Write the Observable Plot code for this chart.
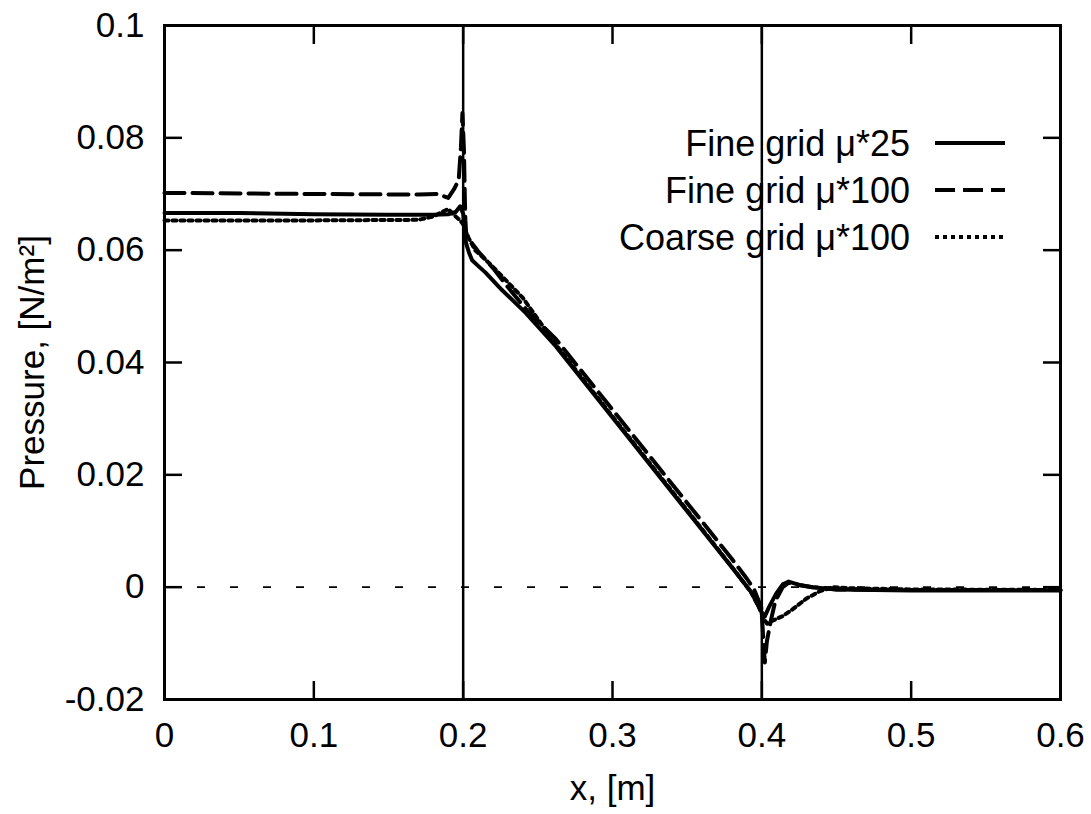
<!DOCTYPE html>
<html>
<head>
<meta charset="utf-8">
<script src="https://cdn.jsdelivr.net/npm/d3@7"></script>
<script src="https://cdn.jsdelivr.net/npm/@observablehq/plot@0.6"></script>
<style>
  html, body { margin: 0; padding: 0; background: #fff; }
  #wrap { position: relative; width: 1091px; height: 814px; font-family: "Liberation Sans", Arial, Helvetica, sans-serif; }
  #legend { position: absolute; left: 0; top: 0; width: 1091px; height: 814px; pointer-events: none; }
</style>
</head>
<body>
<div id="wrap"></div>
<script>
// ---- data ----
const seriesNames = ["Fine grid \u03bc*25", "Fine grid \u03bc*100", "Coarse grid \u03bc*100"];

const xFine25 = [0, 0.05, 0.1, 0.15, 0.18, 0.19, 0.195, 0.198, 0.2, 0.201, 0.202, 0.204, 0.206, 0.21, 0.215, 0.226, 0.242, 0.262, 0.3, 0.35, 0.38, 0.393, 0.397, 0.4, 0.402, 0.4047, 0.4095, 0.414, 0.418, 0.425, 0.434, 0.45, 0.5, 0.6];
const pFine25 = [0.0666, 0.0666, 0.0664, 0.0663, 0.0663, 0.0664, 0.0668, 0.0678, 0.0665, 0.063, 0.0612, 0.0595, 0.0582, 0.0572, 0.056, 0.0529, 0.0488, 0.0429, 0.0302, 0.0135, 0.0035, -0.0009, -0.003, -0.0045, -0.0052, -0.0036, -0.0012, 0.0005, 0.001, 0.0004, 0.0, -0.0004, -0.0006, -0.0006];

const xFine100 = [0, 0.1, 0.17, 0.183, 0.19, 0.194, 0.197, 0.1985, 0.1995, 0.2005, 0.2012, 0.2015, 0.202, 0.206, 0.21, 0.22, 0.23, 0.243, 0.262, 0.3, 0.35, 0.38, 0.39, 0.395, 0.398, 0.3995, 0.4005, 0.401, 0.402, 0.4034, 0.406, 0.409, 0.414, 0.418, 0.425, 0.434, 0.45, 0.5, 0.6];
const pFine100 = [0.0702, 0.0700, 0.0699, 0.0700, 0.0693, 0.0709, 0.0725, 0.0783, 0.0844, 0.078, 0.0684, 0.0653, 0.063, 0.0612, 0.0598, 0.0568, 0.0534, 0.0492, 0.0442, 0.0316, 0.0150, 0.0050, 0.0015, -0.0005, -0.0025, -0.0034, -0.007, -0.0095, -0.0134, -0.0096, -0.006, -0.0025, 0, 0.0008, 0.0004, 0, -0.0004, -0.0005, -0.0005];

const xCoarse100 = [0, 0.1, 0.17, 0.18, 0.186, 0.19, 0.195, 0.198, 0.2, 0.203, 0.208, 0.213, 0.22, 0.24, 0.262, 0.3, 0.35, 0.38, 0.393, 0.398, 0.401, 0.4035, 0.4068, 0.4136, 0.4203, 0.43, 0.439, 0.448, 0.46, 0.5, 0.6];
const pCoarse100 = [0.0653, 0.0653, 0.0654, 0.0660, 0.0668, 0.0673, 0.0660, 0.0653, 0.0646, 0.0625, 0.0600, 0.0588, 0.0570, 0.0515, 0.0432, 0.0304, 0.0137, 0.0036, -0.001, -0.0035, -0.0055, -0.0065, -0.006, -0.0052, -0.004, -0.002, -0.0007, 0, -0.0002, -0.0004, -0.0005];

const interfaces = [0.2, 0.4];
const zeroLine = [0];
const xTicks = [0, 0.1, 0.2, 0.3, 0.4, 0.5, 0.6];
const yTicks = [-0.02, 0, 0.02, 0.04, 0.06, 0.08, 0.1];

// ---- build ----
const toRows = (xs, ps) => xs.map((x, i) => ({x, p: ps[i]}));
const fine25 = toRows(xFine25, pFine25);
const fine100 = toRows(xFine100, pFine100);
const coarse100 = toRows(xCoarse100, pCoarse100);

const fmt = d => String(d);
const TICK = 18;
const LW = 4;

const chart = Plot.plot({
  width: 1091,
  height: 814,
  marginLeft: 164,
  marginRight: 31,
  marginTop: 25,
  marginBottom: 115,
  style: {fontFamily: "'Liberation Sans', Arial, Helvetica, sans-serif", fontSize: "35px", color: "black", background: "white", overflow: "visible"},
  x: {domain: [0, 0.6]},
  y: {domain: [-0.02, 0.1]},
  marks: [
    Plot.ruleY(zeroLine, {stroke: "black", strokeWidth: 1.8, strokeDasharray: "8,25"}),
    Plot.ruleX(interfaces, {stroke: "black", strokeWidth: 2.5}),
    Plot.line(coarse100, {x: "x", y: "p", stroke: "black", strokeWidth: LW, strokeDasharray: "4,4"}),
    Plot.line(fine100, {x: "x", y: "p", stroke: "black", strokeWidth: LW, strokeDasharray: "20,8"}),
    Plot.line(fine25, {x: "x", y: "p", stroke: "black", strokeWidth: LW}),
    Plot.frame({stroke: "black", strokeWidth: 3}),
    // inward ticks on all four sides
    Plot.axisX(xTicks, {anchor: "bottom", tickSize: TICK, dy: -TICK, fill: "none", strokeWidth: 2.5}),
    Plot.axisX(xTicks, {anchor: "top", tickSize: TICK, dy: TICK, fill: "none", strokeWidth: 2.5}),
    Plot.axisY(yTicks, {anchor: "left", tickSize: TICK, dx: TICK, fill: "none", strokeWidth: 2.5}),
    Plot.axisY(yTicks, {anchor: "right", tickSize: TICK, dx: -TICK, fill: "none", strokeWidth: 2.5}),
    // tick labels and axis titles
    Plot.axisX(xTicks, {anchor: "bottom", tickSize: 0, tickPadding: 23, tickFormat: fmt, label: "x, [m]", labelAnchor: "center", labelArrow: "none", labelOffset: 100}),
    Plot.axisY(yTicks, {anchor: "left", tickSize: 0, tickPadding: 20, tickFormat: fmt, label: "Pressure, [N/m\u00b2]", labelAnchor: "center", labelArrow: "none", labelOffset: 145})
  ]
});

const wrap = document.getElementById("wrap");
wrap.appendChild(chart);

// ---- legend (inside plot, top right) ----
const ns = "http://www.w3.org/2000/svg";
const leg = document.createElementNS(ns, "svg");
leg.setAttribute("id", "legend");
leg.setAttribute("width", 1091);
leg.setAttribute("height", 814);
const styles = [
  {dash: null},
  {dash: "20,8"},
  {dash: "4,4"}
];
seriesNames.forEach((name, i) => {
  const cy = 143 + i * 47;
  const t = document.createElementNS(ns, "text");
  t.setAttribute("x", 910);
  t.setAttribute("y", cy);
  t.setAttribute("dy", "0.35em");
  t.setAttribute("text-anchor", "end");
  t.setAttribute("font-size", "36px");
  t.setAttribute("font-family", "'Liberation Sans', Arial, Helvetica, sans-serif");
  t.setAttribute("fill", "black");
  t.textContent = name;
  leg.appendChild(t);
  const l = document.createElementNS(ns, "line");
  l.setAttribute("x1", 935);
  l.setAttribute("x2", 1005);
  l.setAttribute("y1", cy);
  l.setAttribute("y2", cy);
  l.setAttribute("stroke", "black");
  l.setAttribute("stroke-width", LW);
  if (styles[i].dash) l.setAttribute("stroke-dasharray", styles[i].dash);
  leg.appendChild(l);
});
wrap.appendChild(leg);
</script>
</body>
</html>
